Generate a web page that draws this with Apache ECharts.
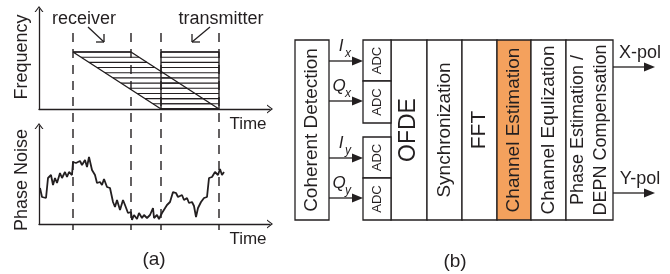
<!DOCTYPE html>
<html>
<head>
<meta charset="utf-8">
<script src="https://cdn.jsdelivr.net/npm/echarts@6/dist/echarts.min.js"></script>
<style>
  html, body { margin: 0; padding: 0; background: #fff; }
  #chart { width: 670px; height: 274px; }
</style>
</head>
<body>
<div id="chart"></div>
<script>
/* panel (a): receiver / transmitter windows on the time-frequency plane */
const rxShape = [[34, 57], [92, 57], [180, 0], [122, 0]];
const txShape = [[122, 57], [180, 57], [180, 0], [122, 0]];
const hatchLevels = [0, 5.2, 10.4, 15.5, 20.7, 25.9, 31.1, 36.3, 41.5, 46.6, 51.8, 57];
const windowEdges = [34, 92, 122, 180];
const pointerArrows = [[49, 82, 65, 67], [171, 82, 153, 67]];

/* phase noise trace */
const noiseTime = [1, 3, 7, 9, 12, 14, 16, 18, 21, 23, 26, 28, 30, 33, 34, 37, 41, 43, 46, 48,
  50, 53, 56, 58, 61, 63, 65, 68, 71, 74, 76, 78, 81, 84, 86, 89, 92, 93, 95, 98,
  100, 103, 105, 108, 111, 114, 115, 118, 120, 123, 125, 128, 131, 134, 137, 139, 143, 145, 148, 150,
  153, 155, 157, 159, 162, 165, 168, 170, 173, 176, 178, 179, 181, 183, 185];
const noiseValue = [36, 27, 26, 46, 49, 39, 46, 41, 51, 46, 52, 47, 52, 49, 62, 61, 63, 59, 64, 57,
  67, 54, 49, 41, 42, 39, 45, 37, 36, 22, 17, 24, 14, 24, 19, 11, 12, 4, 9, 5,
  11, 6, 9, 6, 9, 16, 6, 9, 5, 11, 9, 19, 22, 32, 31, 27, 29, 24, 26, 21,
  22, 18, 7, 16, 22, 26, 27, 46, 47, 52, 54, 49, 55, 49, 52];

/* panel (b): receiver DSP chain */
const stageNames = ['Coherent Detection', 'OFDE', 'Synchronization', 'FFT',
  'Channel Estimation', 'Channel Equlization', 'Phase Estimation /\nDEPN Compensation'];
const stageSpans = [[0, 34], [96, 132], [132, 167], [167, 202], [202, 236], [236, 271], [271, 318]];
const adcColumn = [68, 96];
const adcSpans = [[0, 41], [41, 83], [97, 138], [138, 180]];
const branchNames = [['I', 'x'], ['Q', 'x'], ['I', 'y'], ['Q', 'y']];
const branchLevels = [21, 61, 118, 158];
const outputNames = ['X-pol', 'Y-pol'];
const outputLevels = [27, 153];

const FONT = '"Liberation Sans", Arial, Helvetica, sans-serif';
const INK = '#231f20';
const ORANGE = '#f4a15d';
const ARROW = 'path://M0,6 L4.5,0 L9,6 L7.7,6 L4.5,1.7 L1.3,6 Z';

const chart = echarts.init(document.getElementById('chart'));

function edgeAt(top, bottom, v) {
  const t = (top[1] - v) / (top[1] - bottom[1]);
  return top[0] + t * (bottom[0] - top[0]);
}

function hatchSeries(shape) {
  return {
    type: 'custom', xAxisIndex: 0, yAxisIndex: 0, silent: true,
    data: hatchLevels.map(v => [0, v]),
    renderItem(params, api) {
      const v = api.value(1);
      const p0 = api.coord([edgeAt(shape[0], shape[3], v), v]);
      const p1 = api.coord([edgeAt(shape[1], shape[2], v), v]);
      return {type: 'line', shape: {x1: p0[0], y1: p0[1], x2: p1[0], y2: p1[1]},
        style: {stroke: INK, lineWidth: 1.1}};
    }
  };
}

function outline(shape) {
  return {
    type: 'line', xAxisIndex: 0, yAxisIndex: 0, silent: true, symbol: 'none',
    data: shape.concat([shape[0]]),
    lineStyle: {color: INK, width: 1.4}
  };
}

// filled arrow: line + triangle head, all in pixels
function solidArrow(a, b) {
  const len = 11, half = 4.5;
  return [
    {type: 'line', shape: {x1: a[0], y1: a[1], x2: b[0] - len + 1, y2: b[1]}, style: {stroke: INK, lineWidth: 1.3}},
    {type: 'polygon', shape: {points: [[b[0], b[1]], [b[0] - len, b[1] - half], [b[0] - len, b[1] + half]]},
      style: {fill: INK}}
  ];
}

const axisStyle = {
  type: 'value',
  axisLine: {show: true, onZero: false, symbol: ['none', ARROW], symbolSize: [9, 6],
    lineStyle: {color: INK, width: 1.3}},
  axisTick: {show: false}, axisLabel: {show: false}, splitLine: {show: false}
};

function txt(text, x, y, size, rot) {
  return {type: 'text', x: x, y: y, rotation: rot || 0, silent: true,
    style: {text: text, fill: INK, fontSize: size, fontFamily: FONT, align: 'center', verticalAlign: 'middle'}};
}

chart.setOption({
  animation: false,
  grid: [
    {left: 39, top: 9, width: 231, height: 100},
    {left: 39, top: 126, width: 231, height: 98},
    {left: 39, top: 33, width: 231, height: 197},
    {left: 295, top: 40, width: 360, height: 180}
  ],
  xAxis: [
    Object.assign({gridIndex: 0, min: 0, max: 231}, axisStyle),
    Object.assign({gridIndex: 1, min: 0, max: 231}, axisStyle),
    {gridIndex: 2, type: 'value', min: 0, max: 231, show: false},
    {gridIndex: 3, type: 'value', min: 0, max: 360, show: false}
  ],
  yAxis: [
    Object.assign({gridIndex: 0, min: 0, max: 100}, axisStyle),
    Object.assign({gridIndex: 1, min: 0, max: 98}, axisStyle),
    {gridIndex: 2, type: 'value', min: 0, max: 1, show: false},
    {gridIndex: 3, type: 'value', min: 0, max: 180, inverse: true, show: false}
  ],
  graphic: [
    txt('receiver', 84, 19, 18),
    txt('transmitter', 221, 19, 18),
    txt('Frequency', 22, 57, 18, Math.PI / 2),
    txt('Phase Noise', 22, 180, 18, Math.PI / 2),
    txt('Time', 248, 124, 17),
    txt('Time', 248, 239, 17),
    txt('(a)', 154, 260, 19),
    txt('(b)', 455, 262, 19)
  ],
  series: [
    // receiver / transmitter windows
    hatchSeries(rxShape),
    hatchSeries(txShape),
    outline(rxShape),
    outline(txShape),
    {
      type: 'custom', xAxisIndex: 0, yAxisIndex: 0, silent: true,
      data: pointerArrows,
      renderItem(params, api) {
        const a = api.coord([api.value(0), api.value(1)]);
        const b = api.coord([api.value(2), api.value(3)]);
        const sx = Math.sign(a[0] - b[0]) * 8, sy = Math.sign(a[1] - b[1]) * 8;
        const st = {stroke: INK, lineWidth: 1.3};
        return {type: 'group', children: [
          {type: 'line', shape: {x1: a[0], y1: a[1], x2: b[0], y2: b[1]}, style: st},
          {type: 'line', shape: {x1: b[0], y1: b[1], x2: b[0] + sx, y2: b[1]}, style: st},
          {type: 'line', shape: {x1: b[0], y1: b[1], x2: b[0], y2: b[1] + sy}, style: st}
        ]};
      }
    },
    // phase noise
    {
      type: 'line', xAxisIndex: 1, yAxisIndex: 1, silent: true, symbol: 'none',
      data: noiseTime.map((t, i) => [t, noiseValue[i]]),
      lineStyle: {color: INK, width: 1.8}
    },
    // window boundaries through both plots
    {
      type: 'custom', xAxisIndex: 2, yAxisIndex: 2, silent: true,
      data: windowEdges.map(t => [t, 0]),
      renderItem(params, api) {
        const t = api.value(0);
        const a = api.coord([t, 1]), b = api.coord([t, 0]);
        return {type: 'line', shape: {x1: a[0], y1: a[1], x2: b[0], y2: b[1]},
          style: {stroke: INK, lineWidth: 1.4, lineDash: [9, 7]}};
      }
    },
    // processing stages
    {
      type: 'custom', xAxisIndex: 3, yAxisIndex: 3, silent: true,
      data: stageSpans.map(s => [s[0], s[1]]),
      renderItem(params, api) {
        const i = params.dataIndex;
        const p0 = api.coord([api.value(0), 0]);
        const p1 = api.coord([api.value(1), 180]);
        const name = stageNames[i];
        const size = name === 'OFDE' ? 23 : name === 'FFT' ? 21 : name.indexOf('\n') >= 0 ? 18 : 19;
        return {type: 'group', children: [
          {type: 'rect', shape: {x: p0[0], y: p0[1], width: p1[0] - p0[0], height: p1[1] - p0[1]},
            style: {fill: name === 'Channel Estimation' ? ORANGE : '#fff', stroke: INK, lineWidth: 1.3}},
          {type: 'text', x: (p0[0] + p1[0]) / 2, y: (p0[1] + p1[1]) / 2, rotation: Math.PI / 2,
            style: {text: name, fill: INK, fontSize: size, fontFamily: FONT, lineHeight: 23,
              align: 'center', verticalAlign: 'middle'}}
        ]};
      }
    },
    // ADCs
    {
      type: 'custom', xAxisIndex: 3, yAxisIndex: 3, silent: true,
      data: adcSpans.map(s => [s[0], s[1]]),
      renderItem(params, api) {
        const p0 = api.coord([adcColumn[0], api.value(0)]);
        const p1 = api.coord([adcColumn[1], api.value(1)]);
        return {type: 'group', children: [
          {type: 'rect', shape: {x: p0[0], y: p0[1], width: p1[0] - p0[0], height: p1[1] - p0[1]},
            style: {fill: '#fff', stroke: INK, lineWidth: 1.3}},
          {type: 'text', x: (p0[0] + p1[0]) / 2, y: (p0[1] + p1[1]) / 2, rotation: Math.PI / 2,
            style: {text: 'ADC', fill: INK, fontSize: 13, fontFamily: FONT, align: 'center', verticalAlign: 'middle'}}
        ]};
      }
    },
    // I/Q branches
    {
      type: 'custom', xAxisIndex: 3, yAxisIndex: 3, silent: true,
      data: branchLevels.map(v => [0, v]),
      renderItem(params, api) {
        const nm = branchNames[params.dataIndex];
        const a = api.coord([stageSpans[0][1], api.value(1)]);
        const b = api.coord([adcColumn[0], api.value(1)]);
        const mainX = nm[0] === 'Q' ? a[0] + 10 : a[0] + 12;
        return {type: 'group', children: solidArrow(a, b).concat([
          {type: 'text', x: mainX, y: a[1] - 15,
            style: {text: nm[0], fill: INK, fontSize: 17, fontStyle: 'italic', fontFamily: FONT, align: 'center', verticalAlign: 'middle'}},
          {type: 'text', x: a[0] + 19, y: a[1] - 7,
            style: {text: nm[1], fill: INK, fontSize: 12, fontStyle: 'italic', fontFamily: FONT, align: 'center', verticalAlign: 'middle'}}
        ])};
      }
    },
    // outputs
    {
      type: 'custom', xAxisIndex: 3, yAxisIndex: 3, silent: true,
      data: outputLevels.map(v => [0, v]),
      renderItem(params, api) {
        const a = api.coord([stageSpans[stageSpans.length - 1][1], api.value(1)]);
        const b = api.coord([360, api.value(1)]);
        return {type: 'group', children: solidArrow(a, b).concat([
          {type: 'text', x: (a[0] + b[0]) / 2 + 6, y: a[1] - 14,
            style: {text: outputNames[params.dataIndex], fill: INK, fontSize: 18, fontFamily: FONT, align: 'center', verticalAlign: 'middle'}}
        ])};
      }
    }
  ]
});
</script>
</body>
</html>
